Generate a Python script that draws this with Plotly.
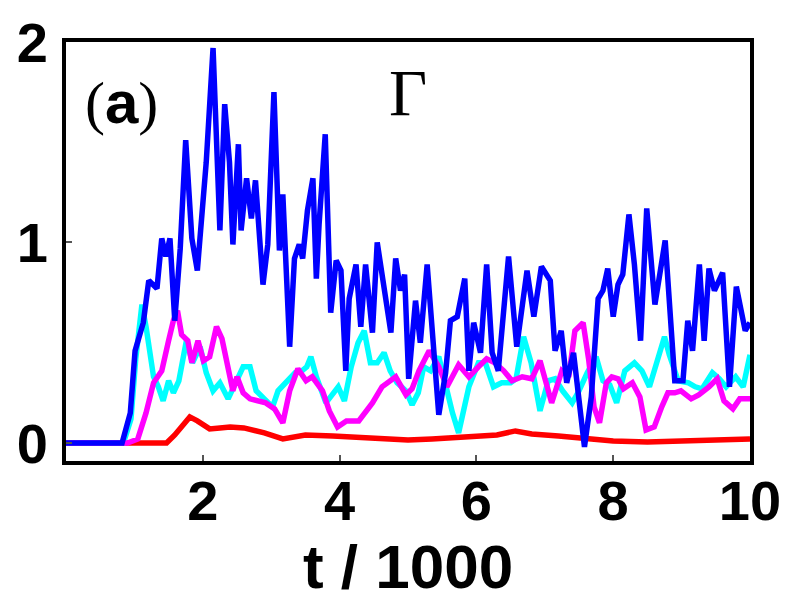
import plotly.graph_objects as go

# Time axis in units of 1000 steps
t_blue = [0, 0.82, 0.94, 1.01, 1.13, 1.21, 1.33, 1.40, 1.46, 1.52, 1.59, 1.67, 1.75, 1.84, 1.92,
          2.05, 2.15, 2.25, 2.32, 2.39, 2.44, 2.52, 2.56, 2.64, 2.71, 2.77, 2.88, 2.95, 3.04, 3.12,
          3.17, 3.27, 3.34, 3.41, 3.46, 3.53, 3.61, 3.66, 3.70, 3.79, 3.87, 3.95, 4.02, 4.09, 4.14,
          4.24, 4.31, 4.38, 4.48, 4.55, 4.63, 4.75, 4.82, 4.89, 4.95, 5.01, 5.11, 5.18, 5.28, 5.35,
          5.45, 5.55, 5.62, 5.72, 5.77, 5.83, 5.89, 5.96, 6.06, 6.15, 6.23, 6.32, 6.47, 6.59, 6.74,
          6.84, 6.95, 7.08, 7.15, 7.24, 7.32, 7.42, 7.58, 7.68, 7.78, 7.85, 7.92, 8.00, 8.07, 8.14,
          8.23, 8.31, 8.40, 8.49, 8.61, 8.76, 8.90, 9.02, 9.09, 9.16, 9.26, 9.33, 9.40, 9.48, 9.60,
          9.70, 9.80, 9.93, 10.0]
gamma_blue = [0, 0, 0.15, 0.46, 0.60, 0.81, 0.77, 1.02, 0.93, 1.02, 0.61, 0.97, 1.51, 1.02, 0.86,
              1.40, 1.97, 1.06, 1.69, 1.40, 0.99, 1.49, 1.06, 1.32, 1.12, 1.31, 0.79, 0.99, 1.75, 0.96,
              1.24, 0.48, 0.92, 0.99, 0.92, 1.16, 1.32, 0.82, 1.09, 1.54, 0.65, 0.91, 0.86, 0.36, 0.72,
              0.89, 0.58, 0.89, 0.55, 1.00, 0.82, 0.55, 0.92, 0.76, 0.84, 0.32, 0.71, 0.50, 0.89, 0.58,
              0.14, 0.35, 0.61, 0.63, 0.72, 0.82, 0.36, 0.60, 0.45, 0.89, 0.45, 0.36, 0.93, 0.48, 0.86,
              0.63, 0.88, 0.81, 0.46, 0.56, 0.30, 0.45, -0.02, 0.23, 0.72, 0.76, 0.87, 0.63, 0.79, 0.84,
              1.14, 0.89, 0.51, 1.17, 0.69, 1.01, 0.31, 0.31, 0.61, 0.46, 0.89, 0.51, 0.87, 0.76, 0.85,
              0.28, 0.78, 0.56, 0.60]

t_cyan = [0, 0.84, 0.95, 1.02, 1.11, 1.17, 1.28, 1.35, 1.42, 1.50, 1.57, 1.65, 1.76, 1.85, 1.96,
          2.05, 2.15, 2.25, 2.37, 2.48, 2.59, 2.69, 2.78, 2.90, 3.02, 3.10, 3.22, 3.35, 3.45, 3.52,
          3.58, 3.66, 3.80, 3.90, 3.98, 4.07, 4.17, 4.27, 4.36, 4.45, 4.55, 4.65, 4.74, 4.84, 4.97,
          5.06, 5.15, 5.23, 5.33, 5.45, 5.55, 5.65, 5.74, 5.89, 6.03, 6.13, 6.25, 6.37, 6.50, 6.58,
          6.69, 6.80, 6.93, 7.05, 7.15, 7.26, 7.40, 7.50, 7.62, 7.75, 7.85, 7.95, 8.05, 8.17, 8.31,
          8.42, 8.53, 8.65, 8.75, 8.82, 8.95, 9.10, 9.20, 9.30, 9.45, 9.55, 9.65, 9.79, 9.90, 10.0]
gamma_cyan = [0, 0, 0.12, 0.42, 0.69, 0.58, 0.33, 0.28, 0.21, 0.31, 0.25, 0.31, 0.51, 0.40, 0.48,
              0.35, 0.26, 0.30, 0.22, 0.30, 0.38, 0.38, 0.26, 0.22, 0.18, 0.26, 0.30, 0.35, 0.36, 0.38,
              0.43, 0.33, 0.20, 0.25, 0.28, 0.21, 0.38, 0.50, 0.56, 0.40, 0.40, 0.45, 0.36, 0.30, 0.26,
              0.19, 0.25, 0.38, 0.36, 0.43, 0.28, 0.15, 0.05, 0.28, 0.40, 0.40, 0.28, 0.30, 0.30, 0.32,
              0.53, 0.40, 0.16, 0.31, 0.32, 0.26, 0.20, 0.26, 0.35, 0.43, 0.31, 0.29, 0.20, 0.36, 0.40,
              0.36, 0.28, 0.41, 0.53, 0.44, 0.31, 0.30, 0.28, 0.27, 0.35, 0.32, 0.28, 0.33, 0.28, 0.44]

t_magenta = [0, 0.90, 1.05, 1.17, 1.28, 1.40, 1.50, 1.57, 1.63, 1.69, 1.78, 1.84, 1.93, 2.01, 2.10,
             2.20, 2.28, 2.39, 2.44, 2.50, 2.59, 2.69, 2.80, 2.92, 3.05, 3.17, 3.27, 3.39, 3.51, 3.60,
             3.75, 3.85, 3.97, 4.10, 4.28, 4.48, 4.62, 4.82, 4.97, 5.06, 5.16, 5.31, 5.45, 5.57, 5.74,
             5.89, 6.03, 6.15, 6.27, 6.40, 6.52, 6.67, 6.81, 6.93, 7.10, 7.25, 7.35, 7.44, 7.56, 7.64,
             7.72, 7.80, 7.90, 7.98, 8.07, 8.15, 8.28, 8.39, 8.48, 8.60, 8.71, 8.80, 8.90, 8.99, 9.14,
             9.25, 9.40, 9.52, 9.62, 9.75, 9.85, 10.0]
gamma_magenta = [0, 0, 0.02, 0.15, 0.30, 0.36, 0.51, 0.61, 0.66, 0.54, 0.51, 0.40, 0.51, 0.41, 0.43,
                 0.58, 0.52, 0.33, 0.26, 0.33, 0.25, 0.22, 0.21, 0.20, 0.17, 0.10, 0.26, 0.37, 0.31, 0.33,
                 0.26, 0.16, 0.08, 0.11, 0.11, 0.20, 0.28, 0.33, 0.24, 0.27, 0.36, 0.46, 0.38, 0.28, 0.39,
                 0.33, 0.38, 0.42, 0.40, 0.36, 0.31, 0.33, 0.32, 0.41, 0.20, 0.36, 0.33, 0.56, 0.60, 0.42,
                 0.18, 0.10, 0.30, 0.33, 0.32, 0.27, 0.30, 0.23, 0.065, 0.08, 0.18, 0.25, 0.25, 0.26, 0.22,
                 0.24, 0.28, 0.32, 0.21, 0.17, 0.22, 0.22]

t_red = [0, 1.47, 1.59, 1.70, 1.81, 1.92, 2.10, 2.25, 2.40, 2.60, 2.90, 3.17, 3.50, 3.90, 4.30,
         4.70, 5.00, 5.35, 5.80, 6.30, 6.57, 6.81, 7.20, 7.50, 8.00, 8.50, 9.00, 9.50, 10.0]
gamma_red = [0, 0, 0.04, 0.09, 0.13, 0.11, 0.07, 0.075, 0.08, 0.075, 0.05, 0.02, 0.04, 0.035, 0.03,
             0.025, 0.015, 0.02, 0.03, 0.04, 0.06, 0.045, 0.035, 0.025, 0.01, 0.005, 0.01, 0.015, 0.02]

x_ticks = [2, 4, 6, 8, 10]
y_ticks = [0, 1, 2]

series = [
    (t_red, gamma_red, "#ff0000"),
    (t_cyan, gamma_cyan, "#00ffff"),
    (t_magenta, gamma_magenta, "#ff00ff"),
    (t_blue, gamma_blue, "#0000ff"),
]

fig = go.Figure()
for tx, gy, col in series:
    fig.add_trace(go.Scatter(x=tx, y=gy, mode="lines",
                             line=dict(color=col, width=5.5),
                             showlegend=False, hoverinfo="skip"))

tick_font = dict(family="Liberation Sans, Arial, sans-serif", size=56, color="black", weight="bold")

fig.update_layout(
    template="none",
    width=791, height=601,
    margin=dict(l=66, r=41, t=42, b=140, autoexpand=False),
    paper_bgcolor="white", plot_bgcolor="white",
    showlegend=False,
)
fig.update_xaxes(
    range=[0, 10], tickvals=x_ticks, ticktext=[str(v) for v in x_ticks],
    showgrid=False, zeroline=False, automargin=False,
    showline=True, linecolor="black", linewidth=4, mirror=True,
    ticks="inside", ticklen=6, tickwidth=1.5, tickcolor="#555",
    tickfont=tick_font, ticklabelstandoff=-12,
    title=dict(text="t / 1000", standoff=8,
               font=dict(family="Liberation Sans, Arial, sans-serif", size=62,
                         color="black", weight="bold")),
)
fig.update_yaxes(
    range=[-0.09, 2.0], tickvals=y_ticks, ticktext=[str(v) for v in y_ticks],
    showgrid=False, zeroline=False, automargin=False,
    showline=True, linecolor="black", linewidth=4, mirror=True,
    ticks="inside", ticklen=6, tickwidth=1.5, tickcolor="#555",
    tickfont=tick_font, ticklabelstandoff=3,
)

fig.add_annotation(
    x=0.025, y=0.855, xref="paper", yref="paper", xanchor="left", yanchor="middle",
    text="<span style='font-family:Liberation Serif'>(</span><b>a</b>"
         "<span style='font-family:Liberation Serif'>)</span>",
    showarrow=False,
    font=dict(family="Liberation Sans, Arial, sans-serif", size=60, color="black"),
)
fig.add_annotation(
    x=0.50, y=0.88, xref="paper", yref="paper", xanchor="center", yanchor="middle",
    text="Γ", showarrow=False,
    font=dict(family="Liberation Serif, Times New Roman, serif", size=66, color="black"),
)

fig.write_html("out.html")
